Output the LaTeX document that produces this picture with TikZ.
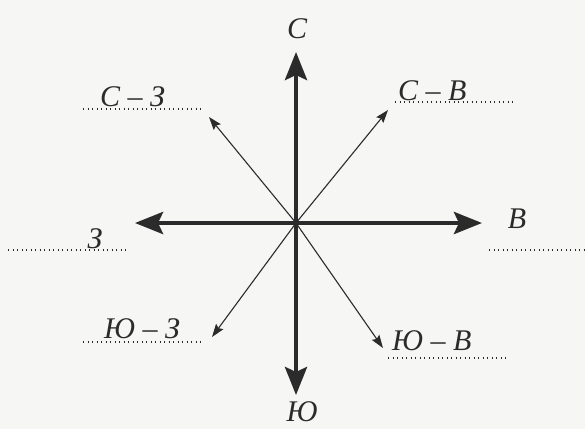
\documentclass[tikz,border=0pt]{standalone}
\usepackage{fontspec}
\setmainfont{Liberation Serif}
\usetikzlibrary{arrows.meta}
\definecolor{paper}{HTML}{F6F6F5}
\definecolor{ink}{HTML}{2B2B2B}
\tikzset{
  bigarrow/.style={draw=ink, line width=4.5pt, -{Stealth[length=28pt,width=22pt,inset=5pt]}},
  thinarrow/.style={draw=ink, line width=1.1pt, -{Stealth[length=13pt,width=9pt,inset=2pt]}},
  dotline/.style={draw=ink, line width=1.6pt, dash pattern=on 1.3pt off 3.2pt},
  lbl/.style={inner sep=0pt, anchor=base west, text=ink, font=\itshape\fontsize{30}{30}\selectfont},
  lblc/.style={lbl, anchor=base}
}
\begin{document}
\begin{tikzpicture}[x=1pt,y=-1pt]
\fill[paper] (0,0) rectangle (585,429);
\useasboundingbox (0,0) rectangle (585,429);
\coordinate (O) at (296,223);
\coordinate (N) at (296,52);
\coordinate (S) at (296,395);
\coordinate (W) at (135,223);
\coordinate (E) at (482,223);
\coordinate (NW) at (209,117);
\coordinate (NE) at (388,110);
\coordinate (SW) at (212,337);
\coordinate (SE) at (383,348);
% thin diagonal arrows
\draw[thinarrow] (O) -- (NW);
\draw[thinarrow] (O) -- (NE);
\draw[thinarrow] (O) -- (SW);
\draw[thinarrow] (O) -- (SE);
% main arrows
\draw[bigarrow] (O) -- (N);
\draw[bigarrow] (O) -- (S);
\draw[bigarrow] (O) -- (W);
\draw[bigarrow] (O) -- (E);
% dotted lines
\coordinate (l1a) at (83,109); \coordinate (l1b) at (204,109);
\coordinate (l2a) at (395,102); \coordinate (l2b) at (516,102);
\coordinate (l3a) at (8,250); \coordinate (l3b) at (129,250);
\coordinate (l4a) at (489,250); \coordinate (l4b) at (585,250);
\coordinate (l5a) at (83,342); \coordinate (l5b) at (204,342);
\coordinate (l6a) at (388,358); \coordinate (l6b) at (508,358);
\draw[dotline] (l1a) -- (l1b);
\draw[dotline] (l2a) -- (l2b);
\draw[dotline] (l3a) -- (l3b);
\draw[dotline] (l4a) -- (l4b);
\draw[dotline] (l5a) -- (l5b);
\draw[dotline] (l6a) -- (l6b);
% labels
\node[lblc] (tN) at (297,38) {С};
\node[lbl] (tNW) at (100,106) {С – З};
\node[lbl] (tNE) at (398,100) {С – В};
\node[lblc] (tW) at (95,248) {З};
\node[lblc] (tE) at (517,228) {В};
\node[lbl] (tSW) at (104,338) {Ю – З};
\node[lbl] (tSE) at (392,350) {Ю – В};
\node[lblc] (tS) at (302,421) {Ю};
\end{tikzpicture}
\end{document}
